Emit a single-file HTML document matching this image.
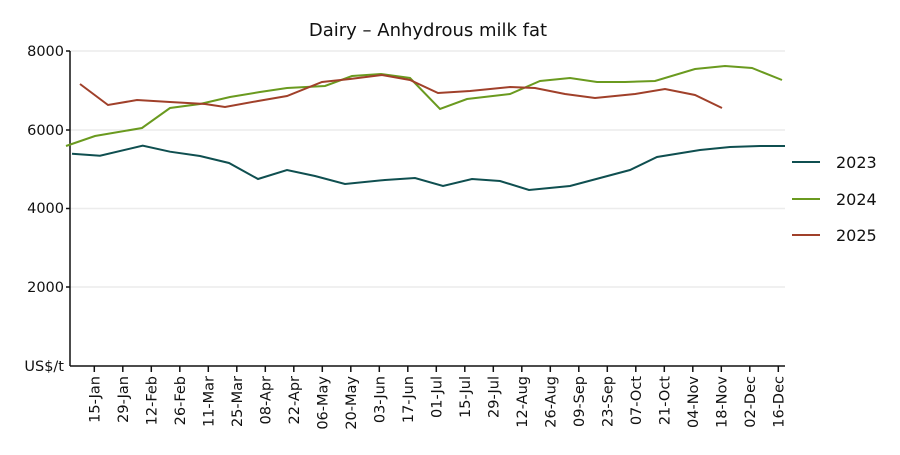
<!DOCTYPE html>
<html><head><style>body{margin:0;background:#fff}svg{font-family:"DejaVu Sans","Liberation Sans",sans-serif}</style></head>
<body>
<svg width="900" height="450" viewBox="0 0 900 450" xmlns="http://www.w3.org/2000/svg">
<text x="428" y="36" font-size="18" text-anchor="middle" fill="#111">Dairy – Anhydrous milk fat</text>
<g stroke="#ececec" stroke-width="1.5">
<line x1="70" y1="51" x2="785" y2="51"/><line x1="70" y1="130" x2="785" y2="130"/><line x1="70" y1="208.5" x2="785" y2="208.5"/><line x1="70" y1="287" x2="785" y2="287"/>
</g>
<g stroke="#111" stroke-width="1.5" fill="none">
<line x1="70" y1="51" x2="70" y2="366"/><line x1="70" y1="366" x2="785" y2="366"/>
<line x1="66" y1="51" x2="70" y2="51"/><line x1="66" y1="130" x2="70" y2="130"/><line x1="66" y1="208.5" x2="70" y2="208.5"/><line x1="66" y1="287" x2="70" y2="287"/>
</g>
<g font-size="14.5" fill="#111" text-anchor="end">
<text x="64" y="56">8000</text><text x="64" y="135">6000</text><text x="64" y="213">4000</text><text x="64" y="292">2000</text><text x="64" y="371">US$/t</text>
</g>
<g id="ticks" stroke="#111" stroke-width="1.5"></g>
<g id="labs" font-size="14.5" fill="#111"></g>
<polyline fill="none" stroke="#0f4f50" stroke-width="2" points="72,153.7 100,155.7 142.7,145.7 170,151.7 200,156 229,163 258,179 287,170 315,176 345,184 385,180 415,178 443,186 472,179 500,181 529,190 570,186 600,178 630,170 657,157 700,150 730,147 760,146 785,146"/>
<polyline fill="none" stroke="#6a9a1f" stroke-width="2" points="66,146 95,136 142,128 170,108 200,104 230,97 260,92 287,88 325,86 352,76 381,74 410,78 440,109 467,99 510,94 540,81 570,78 597,82 625,82 655,81 695,69 725,66 752,68 782,80"/>
<polyline fill="none" stroke="#a0402a" stroke-width="2" points="80,84 108,105 137,100 170,102 205,104 225,107 258,101 287,96 322,82 350,79 382,75 410,80 438,93 470,91 510,87 535,88 565,94 595,98 635,94 665,89 695,95 722,108"/>
<g stroke-width="2"><line x1="792" y1="162" x2="820" y2="162" stroke="#0f4f50"/><line x1="792" y1="199" x2="820" y2="199" stroke="#6a9a1f"/><line x1="792" y1="235" x2="820" y2="235" stroke="#a0402a"/></g>
<g font-size="16" fill="#111"><text x="836" y="168">2023</text><text x="836" y="205">2024</text><text x="836" y="241">2025</text></g>
<script>
var L=["15-Jan","29-Jan","12-Feb","26-Feb","11-Mar","25-Mar","08-Apr","22-Apr","06-May","20-May","03-Jun","17-Jun","01-Jul","15-Jul","29-Jul","12-Aug","26-Aug","09-Sep","23-Sep","07-Oct","21-Oct","04-Nov","18-Nov","02-Dec","16-Dec"];
var t=document.getElementById("ticks"),l=document.getElementById("labs"),ns="http://www.w3.org/2000/svg";
L.forEach(function(s,i){var x=94.3+i*28.5;var ln=document.createElementNS(ns,"line");ln.setAttribute("x1",x);ln.setAttribute("x2",x);ln.setAttribute("y1",366);ln.setAttribute("y2",372);t.appendChild(ln);
var tx=document.createElementNS(ns,"text");tx.setAttribute("transform","translate("+(x+5)+",376) rotate(-90)");tx.setAttribute("text-anchor","end");tx.textContent=s;l.appendChild(tx);});
</script>
</svg>
</body></html>
